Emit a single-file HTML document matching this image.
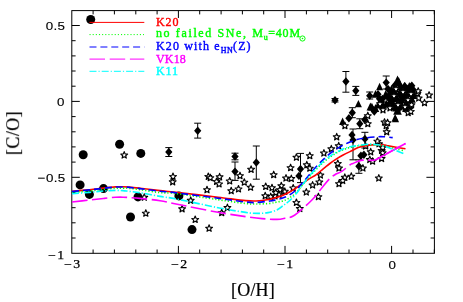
<!DOCTYPE html>
<html><head><meta charset="utf-8"><style>
html,body{margin:0;padding:0;background:#fff}
#c{position:relative;width:463px;height:302px;overflow:hidden;background:#fff;font-family:"Liberation Sans",sans-serif;color:#000}
.t{position:absolute;white-space:nowrap;line-height:1;will-change:transform}
.s{font-family:"Liberation Sans",sans-serif;font-size:11.8px;transform:scaleX(1.13);letter-spacing:0.3px;-webkit-text-stroke:0.15px #000}
.r{font-family:"Liberation Serif",serif;font-size:11.5px;letter-spacing:1.2px;transform:scaleX(1.2);-webkit-text-stroke:0.25px #000}
.lg{font-family:"Liberation Serif",serif;font-size:12px;letter-spacing:1.2px;left:155.5px;-webkit-text-stroke:0.4px currentColor}
.lg sub{font-size:8px;vertical-align:baseline;position:relative;top:3px;letter-spacing:0.3px}
</style></head><body><div id="c">
<svg width="463" height="302" viewBox="0 0 463 302" style="position:absolute;left:0;top:0">
<g stroke="#000" stroke-width="1.0" fill="none">
<rect x="71.8" y="10.6" width="362.6" height="242.7"/>
<path d="M93.1 253.3v-3.8M93.1 10.6v3.8M114.4 253.3v-3.8M114.4 10.6v3.8M135.8 253.3v-3.8M135.8 10.6v3.8M157.1 253.3v-3.8M157.1 10.6v3.8M178.4 253.3v-7.4M178.4 10.6v7.4M199.7 253.3v-3.8M199.7 10.6v3.8M221.1 253.3v-3.8M221.1 10.6v3.8M242.4 253.3v-3.8M242.4 10.6v3.8M263.7 253.3v-3.8M263.7 10.6v3.8M285.0 253.3v-7.4M285.0 10.6v7.4M306.4 253.3v-3.8M306.4 10.6v3.8M327.7 253.3v-3.8M327.7 10.6v3.8M349.0 253.3v-3.8M349.0 10.6v3.8M370.3 253.3v-3.8M370.3 10.6v3.8M391.6 253.3v-7.4M391.6 10.6v7.4M413.0 253.3v-3.8M413.0 10.6v3.8M434.3 253.3v-3.8M434.3 10.6v3.8M71.8 238.0h3.8M434.4 238.0h-3.8M71.8 222.8h3.8M434.4 222.8h-3.8M71.8 207.7h3.8M434.4 207.7h-3.8M71.8 192.5h3.8M434.4 192.5h-3.8M71.8 177.3h8.0M434.4 177.3h-8.0M71.8 162.1h3.8M434.4 162.1h-3.8M71.8 146.9h3.8M434.4 146.9h-3.8M71.8 131.8h3.8M434.4 131.8h-3.8M71.8 116.6h3.8M434.4 116.6h-3.8M71.8 101.4h8.0M434.4 101.4h-8.0M71.8 86.2h3.8M434.4 86.2h-3.8M71.8 71.0h3.8M434.4 71.0h-3.8M71.8 55.9h3.8M434.4 55.9h-3.8M71.8 40.7h3.8M434.4 40.7h-3.8M71.8 25.5h8.0M434.4 25.5h-8.0"/>
</g>
<g fill="#000">
<circle cx="90.7" cy="19.5" r="4.5"/>
<circle cx="83.2" cy="154.7" r="4.5"/>
<circle cx="119.6" cy="144.3" r="4.5"/>
<circle cx="140.8" cy="153.4" r="4.5"/>
<circle cx="80.1" cy="184.9" r="4.5"/>
<circle cx="89.4" cy="194.4" r="4.5"/>
<circle cx="103.5" cy="188.6" r="4.5"/>
<circle cx="138.0" cy="196.9" r="4.5"/>
<circle cx="130.5" cy="217.0" r="4.5"/>
<circle cx="178.9" cy="195.9" r="4.5"/>
<circle cx="192.0" cy="229.6" r="4.5"/>
<polygon points="358.4,99.9 354.9,107.2 361.9,107.2"/>
<polygon points="379.6,82.8 376.1,90.2 383.1,90.2"/>
<polygon points="397.5,75.6 393.0,85.0 402.0,85.0"/>
<polygon points="404.8,81.9 400.8,90.3 408.8,90.3"/>
<polygon points="410.6,83.0 406.6,91.4 414.6,91.4"/>
<polygon points="394.3,86.5 390.3,94.9 398.3,94.9"/>
<polygon points="395.5,114.9 392.0,122.2 399.0,122.2"/>
<polygon points="398.7,77.0 394.4,85.9 402.9,85.9"/>
<polygon points="400.1,81.1 395.9,90.0 404.4,90.0"/>
<polygon points="409.3,82.0 405.1,90.9 413.6,90.9"/>
<polygon points="391.4,85.0 387.1,93.9 395.6,93.9"/>
<polygon points="400.5,86.0 396.2,94.9 404.8,94.9"/>
<polygon points="407.6,84.6 403.4,93.5 411.9,93.5"/>
<polygon points="385.7,90.0 381.4,98.9 389.9,98.9"/>
<polygon points="394.6,89.2 390.4,98.1 398.9,98.1"/>
<polygon points="403.6,90.5 399.4,99.4 407.9,99.4"/>
<polygon points="413.5,90.0 409.2,98.9 417.8,98.9"/>
<polygon points="392.6,93.0 388.4,101.9 396.9,101.9"/>
<polygon points="401.3,94.1 397.1,103.0 405.6,103.0"/>
<polygon points="411.5,93.9 407.2,102.8 415.8,102.8"/>
<polygon points="392.5,97.5 388.2,106.4 396.8,106.4"/>
<polygon points="401.2,99.0 396.9,107.9 405.4,107.9"/>
<polygon points="410.4,97.3 406.1,106.2 414.6,106.2"/>
<polygon points="396.8,102.7 392.6,111.6 401.1,111.6"/>
<polygon points="406.3,103.0 402.1,111.9 410.6,111.9"/>
<polygon points="397.5,105.8 393.2,114.7 401.8,114.7"/>
<polygon points="375.5,104.0 371.8,111.9 379.2,111.9"/>
<polygon points="371.9,102.7 368.1,110.6 375.6,110.6"/>
<polygon points="386.2,99.5 382.4,107.4 389.9,107.4"/>
<polygon points="378.3,100.5 374.6,108.4 382.1,108.4"/>
<polygon points="382.6,99.8 378.9,107.7 386.4,107.7"/>
<polygon points="375.5,89.9 371.8,97.8 379.2,97.8"/>
<polygon points="370.4,102.5 366.6,110.4 374.1,110.4"/>
<polygon points="342.6,117.6 339.1,125.0 346.1,125.0"/>
<polygon points="395.1,114.0 391.6,121.4 398.6,121.4"/>
<polygon points="168.8,147.8 172.4,152.0 168.8,156.2 165.2,152.0"/>
<polygon points="197.7,126.5 201.3,130.7 197.7,134.9 194.1,130.7"/>
<polygon points="235.0,152.3 238.6,156.5 235.0,160.7 231.4,156.5"/>
<polygon points="235.0,167.4 238.6,171.6 235.0,175.8 231.4,171.6"/>
<polygon points="256.3,158.3 259.9,162.5 256.3,166.7 252.7,162.5"/>
<polygon points="300.5,164.8 304.1,169.0 300.5,173.2 296.9,169.0"/>
<polygon points="298.9,171.7 302.5,175.9 298.9,180.1 295.3,175.9"/>
<polygon points="345.9,77.3 349.5,81.5 345.9,85.7 342.3,81.5"/>
<polygon points="355.8,86.6 359.4,90.8 355.8,95.0 352.2,90.8"/>
<polygon points="335.0,96.1 338.6,100.3 335.0,104.5 331.4,100.3"/>
<polygon points="352.3,108.5 355.9,112.7 352.3,116.9 348.7,112.7"/>
<polygon points="348.9,114.0 352.5,118.2 348.9,122.4 345.3,118.2"/>
<polygon points="352.0,130.7 355.6,134.9 352.0,139.1 348.4,134.9"/>
<polygon points="353.0,135.7 356.6,139.9 353.0,144.1 349.4,139.9"/>
<polygon points="364.9,134.7 368.5,138.9 364.9,143.1 361.3,138.9"/>
<polygon points="360.9,151.6 364.5,155.8 360.9,160.0 357.3,155.8"/>
<polygon points="363.9,150.6 367.5,154.8 363.9,159.0 360.3,154.8"/>
<polygon points="358.9,162.0 362.5,166.2 358.9,170.4 355.3,166.2"/>
<polygon points="386.2,78.4 389.8,82.6 386.2,86.8 382.6,82.6"/>
<polygon points="378.0,90.1 381.6,94.3 378.0,98.5 374.4,94.3"/>
<polygon points="388.0,84.8 391.6,89.0 388.0,93.2 384.4,89.0"/>
<polygon points="369.7,91.6 373.3,95.8 369.7,100.0 366.1,95.8"/>
<polygon points="359.8,119.6 363.4,123.8 359.8,128.0 356.2,123.8"/>
<polygon points="364.8,115.6 368.4,119.8 364.8,124.0 361.2,119.8"/>
<polygon points="394.8,81.3 398.4,85.5 394.8,89.7 391.2,85.5"/>
<polygon points="404.7,82.0 408.3,86.2 404.7,90.4 401.1,86.2"/>
<polygon points="411.8,81.6 415.4,85.8 411.8,90.0 408.2,85.8"/>
<polygon points="394.4,86.1 398.0,90.3 394.4,94.5 390.8,90.3"/>
<polygon points="403.2,85.9 406.8,90.1 403.2,94.3 399.6,90.1"/>
<polygon points="413.4,85.8 417.0,90.0 413.4,94.2 409.8,90.0"/>
<polygon points="390.0,90.4 393.6,94.6 390.0,98.8 386.4,94.6"/>
<polygon points="400.5,91.2 404.1,95.4 400.5,99.6 396.9,95.4"/>
<polygon points="407.8,90.4 411.4,94.6 407.8,98.8 404.2,94.6"/>
<polygon points="389.1,94.5 392.7,98.7 389.1,102.9 385.5,98.7"/>
<polygon points="396.6,95.0 400.2,99.2 396.6,103.4 393.0,99.2"/>
<polygon points="405.9,94.7 409.5,98.9 405.9,103.1 402.3,98.9"/>
<polygon points="389.4,99.6 393.0,103.8 389.4,108.0 385.8,103.8"/>
<polygon points="397.9,99.9 401.5,104.1 397.9,108.3 394.3,104.1"/>
<polygon points="407.0,99.2 410.6,103.4 407.0,107.6 403.4,103.4"/>
<polygon points="393.2,102.8 396.8,107.0 393.2,111.2 389.6,107.0"/>
<polygon points="400.9,102.7 404.5,106.9 400.9,111.1 397.3,106.9"/>
<polygon points="410.8,102.8 414.4,107.0 410.8,111.2 407.2,107.0"/>
<polygon points="382.6,103.5 386.2,107.7 382.6,111.9 379.0,107.7"/>
<polygon points="373.7,105.9 377.3,110.1 373.7,114.3 370.1,110.1"/>
<polygon points="379.5,94.5 383.1,98.7 379.5,102.9 375.9,98.7"/>
<polygon points="382.4,94.7 386.0,98.9 382.4,103.1 378.8,98.9"/>
<polygon points="374.3,107.3 377.9,111.5 374.3,115.7 370.7,111.5"/>
<polygon points="381.6,97.7 385.2,101.9 381.6,106.1 378.0,101.9"/>
</g>
<g stroke="#000" stroke-width="1" fill="none">
<path d="M168.8 147.6V156.5M165.3 147.6h7M165.3 156.5h7"/>
<path d="M197.7 123.2V138.1M194.2 123.2h7M194.2 138.1h7"/>
<path d="M235.0 153.2V159.8M231.5 153.2h7M231.5 159.8h7"/>
<path d="M235.0 162.0V180.4M231.5 162.0h7M231.5 180.4h7"/>
<path d="M256.3 146.0V179.2M252.8 146.0h7M252.8 179.2h7"/>
<path d="M300.5 153.4V182.6M297.0 153.4h7M297.0 182.6h7"/>
<path d="M345.9 71.5V92.2M342.4 71.5h7M342.4 92.2h7"/>
<path d="M355.8 86.4V95.4M352.3 86.4h7M352.3 95.4h7"/>
<path d="M335.0 98.5V102.0M331.5 98.5h7M331.5 102.0h7"/>
<path d="M352.3 107.7V117.7M348.8 107.7h7M348.8 117.7h7"/>
<path d="M353.0 129.0V159.8M349.5 129.0h7M349.5 159.8h7"/>
<path d="M364.9 132.3V148.0M361.4 132.3h7M361.4 148.0h7"/>
<path d="M358.9 159.8V173.3M355.4 159.8h7M355.4 173.3h7"/>
<path d="M386.2 76.0V89.0M382.7 76.0h7M382.7 89.0h7"/>
<path d="M369.7 92.0V99.0M366.2 92.0h7M366.2 99.0h7"/>
<path d="M359.8 118.8V128.7M356.3 118.8h7M356.3 128.7h7"/>
</g>
<g stroke="#000" stroke-width="1.15" fill="#fff" stroke-linejoin="round">
<polygon points="124.2,151.6 125.1,153.9 127.6,154.1 125.7,155.7 126.3,158.1 124.2,156.8 122.1,158.1 122.7,155.7 120.8,154.1 123.3,153.9"/>
<polygon points="144.3,193.8 145.2,196.1 147.7,196.3 145.8,197.9 146.4,200.3 144.3,199.0 142.2,200.3 142.8,197.9 140.9,196.3 143.4,196.1"/>
<polygon points="145.8,209.8 146.7,212.0 149.2,212.2 147.3,213.8 147.9,216.2 145.8,214.9 143.7,216.2 144.3,213.8 142.4,212.2 144.9,212.0"/>
<polygon points="173.0,173.0 173.9,175.3 176.4,175.5 174.5,177.1 175.1,179.5 173.0,178.2 170.9,179.5 171.5,177.1 169.6,175.5 172.1,175.3"/>
<polygon points="172.7,178.4 173.6,180.7 176.1,180.9 174.2,182.5 174.8,184.9 172.7,183.6 170.6,184.9 171.2,182.5 169.3,180.9 171.8,180.7"/>
<polygon points="208.3,173.0 209.2,175.3 211.7,175.5 209.8,177.1 210.4,179.5 208.3,178.2 206.2,179.5 206.8,177.1 204.9,175.5 207.4,175.3"/>
<polygon points="210.3,174.2 211.2,176.5 213.7,176.7 211.8,178.3 212.4,180.7 210.3,179.4 208.2,180.7 208.8,178.3 206.9,176.7 209.4,176.5"/>
<polygon points="219.6,173.4 220.5,175.7 223.0,175.9 221.1,177.5 221.7,179.9 219.6,178.6 217.5,179.9 218.1,177.5 216.2,175.9 218.7,175.7"/>
<polygon points="216.6,178.0 217.5,180.3 220.0,180.5 218.1,182.1 218.7,184.5 216.6,183.2 214.5,184.5 215.1,182.1 213.2,180.5 215.7,180.3"/>
<polygon points="219.1,180.5 220.0,182.8 222.5,183.0 220.6,184.6 221.2,187.0 219.1,185.7 217.0,187.0 217.6,184.6 215.7,183.0 218.2,182.8"/>
<polygon points="207.0,186.3 207.9,188.6 210.4,188.8 208.5,190.4 209.1,192.8 207.0,191.5 204.9,192.8 205.5,190.4 203.6,188.8 206.1,188.6"/>
<polygon points="229.7,177.5 230.6,179.8 233.1,180.0 231.2,181.6 231.8,184.0 229.7,182.7 227.6,184.0 228.2,181.6 226.3,180.0 228.8,179.8"/>
<polygon points="231.2,187.3 232.1,189.6 234.6,189.8 232.7,191.4 233.3,193.8 231.2,192.5 229.1,193.8 229.7,191.4 227.8,189.8 230.3,189.6"/>
<polygon points="238.5,185.5 239.4,187.8 241.9,188.0 240.0,189.6 240.6,192.0 238.5,190.7 236.4,192.0 237.0,189.6 235.1,188.0 237.6,187.8"/>
<polygon points="240.0,172.2 240.9,174.5 243.4,174.7 241.5,176.3 242.1,178.7 240.0,177.4 237.9,178.7 238.5,176.3 236.6,174.7 239.1,174.5"/>
<polygon points="244.3,178.8 245.2,181.0 247.7,181.2 245.8,182.8 246.4,185.2 244.3,183.9 242.2,185.2 242.8,182.8 240.9,181.2 243.4,181.0"/>
<polygon points="250.6,183.8 251.5,186.1 254.0,186.3 252.1,187.9 252.7,190.3 250.6,189.0 248.5,190.3 249.1,187.9 247.2,186.3 249.7,186.1"/>
<polygon points="251.1,165.9 252.0,168.2 254.5,168.4 252.6,170.0 253.2,172.4 251.1,171.1 249.0,172.4 249.6,170.0 247.7,168.4 250.2,168.2"/>
<polygon points="273.7,171.2 274.6,173.5 277.1,173.7 275.2,175.3 275.8,177.7 273.7,176.4 271.6,177.7 272.2,175.3 270.3,173.7 272.8,173.5"/>
<polygon points="265.7,183.0 266.6,185.3 269.1,185.5 267.2,187.1 267.8,189.5 265.7,188.2 263.6,189.5 264.2,187.1 262.3,185.5 264.8,185.3"/>
<polygon points="272.0,184.3 272.9,186.6 275.4,186.8 273.5,188.4 274.1,190.8 272.0,189.5 269.9,190.8 270.5,188.4 268.6,186.8 271.1,186.6"/>
<polygon points="265.2,192.3 266.1,194.6 268.6,194.8 266.7,196.4 267.3,198.8 265.2,197.5 263.1,198.8 263.7,196.4 261.8,194.8 264.3,194.6"/>
<polygon points="270.7,193.1 271.6,195.4 274.1,195.6 272.2,197.2 272.8,199.6 270.7,198.3 268.6,199.6 269.2,197.2 267.3,195.6 269.8,195.4"/>
<polygon points="275.0,192.4 275.9,194.7 278.4,194.9 276.5,196.5 277.1,198.9 275.0,197.6 272.9,198.9 273.5,196.5 271.6,194.9 274.1,194.7"/>
<polygon points="190.7,196.9 191.6,199.2 194.1,199.4 192.2,201.0 192.8,203.4 190.7,202.1 188.6,203.4 189.2,201.0 187.3,199.4 189.8,199.2"/>
<polygon points="182.1,205.4 183.0,207.7 185.5,207.9 183.6,209.5 184.2,211.9 182.1,210.6 180.0,211.9 180.6,209.5 178.7,207.9 181.2,207.7"/>
<polygon points="195.2,216.0 196.1,218.3 198.6,218.5 196.7,220.1 197.3,222.5 195.2,221.2 193.1,222.5 193.7,220.1 191.8,218.5 194.3,218.3"/>
<polygon points="209.1,224.8 210.0,227.1 212.5,227.3 210.6,228.9 211.2,231.3 209.1,230.0 207.0,231.3 207.6,228.9 205.7,227.3 208.2,227.1"/>
<polygon points="227.4,204.1 228.3,206.4 230.8,206.6 228.9,208.2 229.5,210.6 227.4,209.3 225.3,210.6 225.9,208.2 224.0,206.6 226.5,206.4"/>
<polygon points="221.7,209.2 222.6,211.5 225.1,211.7 223.2,213.3 223.8,215.7 221.7,214.4 219.6,215.7 220.2,213.3 218.3,211.7 220.8,211.5"/>
<polygon points="281.3,182.3 282.2,184.6 284.7,184.8 282.8,186.4 283.4,188.8 281.3,187.5 279.2,188.8 279.8,186.4 277.9,184.8 280.4,184.6"/>
<polygon points="280.0,186.2 280.9,188.5 283.4,188.7 281.5,190.3 282.1,192.7 280.0,191.4 277.9,192.7 278.5,190.3 276.6,188.7 279.1,188.5"/>
<polygon points="286.0,174.6 286.9,176.9 289.4,177.1 287.5,178.7 288.1,181.1 286.0,179.8 283.9,181.1 284.5,178.7 282.6,177.1 285.1,176.9"/>
<polygon points="291.3,175.1 292.2,177.4 294.7,177.6 292.8,179.2 293.4,181.6 291.3,180.3 289.2,181.6 289.8,179.2 287.9,177.6 290.4,177.4"/>
<polygon points="290.6,164.2 291.5,166.5 294.0,166.7 292.1,168.3 292.7,170.7 290.6,169.4 288.5,170.7 289.1,168.3 287.2,166.7 289.7,166.5"/>
<polygon points="296.4,153.8 297.3,156.1 299.8,156.3 297.9,157.9 298.5,160.3 296.4,159.0 294.3,160.3 294.9,157.9 293.0,156.3 295.5,156.1"/>
<polygon points="309.8,152.2 310.7,154.5 313.2,154.7 311.3,156.3 311.9,158.7 309.8,157.4 307.7,158.7 308.3,156.3 306.4,154.7 308.9,154.5"/>
<polygon points="306.8,161.4 307.7,163.7 310.2,163.9 308.3,165.5 308.9,167.9 306.8,166.6 304.7,167.9 305.3,165.5 303.4,163.9 305.9,163.7"/>
<polygon points="309.8,164.8 310.7,167.0 313.2,167.2 311.3,168.8 311.9,171.2 309.8,169.9 307.7,171.2 308.3,168.8 306.4,167.2 308.9,167.0"/>
<polygon points="279.0,190.9 279.9,193.2 282.4,193.4 280.5,195.0 281.1,197.4 279.0,196.1 276.9,197.4 277.5,195.0 275.6,193.4 278.1,193.2"/>
<polygon points="284.8,187.9 285.7,190.2 288.2,190.4 286.3,192.0 286.9,194.4 284.8,193.1 282.7,194.4 283.3,192.0 281.4,190.4 283.9,190.2"/>
<polygon points="306.3,188.6 307.2,190.9 309.7,191.1 307.8,192.7 308.4,195.1 306.3,193.8 304.2,195.1 304.8,192.7 302.9,191.1 305.4,190.9"/>
<polygon points="312.6,181.6 313.5,183.9 316.0,184.1 314.1,185.7 314.7,188.1 312.6,186.8 310.5,188.1 311.1,185.7 309.2,184.1 311.7,183.9"/>
<polygon points="318.4,193.2 319.3,195.5 321.8,195.7 319.9,197.3 320.5,199.7 318.4,198.4 316.3,199.7 316.9,197.3 315.0,195.7 317.5,195.5"/>
<polygon points="296.4,199.0 297.3,201.3 299.8,201.5 297.9,203.1 298.5,205.5 296.4,204.2 294.3,205.5 294.9,203.1 293.0,201.5 295.5,201.3"/>
<polygon points="299.8,205.1 300.7,207.4 303.2,207.6 301.3,209.2 301.9,211.6 299.8,210.3 297.7,211.6 298.3,209.2 296.4,207.6 298.9,207.4"/>
<polygon points="336.7,133.4 337.6,135.7 340.1,135.9 338.2,137.5 338.8,139.9 336.7,138.6 334.6,139.9 335.2,137.5 333.3,135.9 335.8,135.7"/>
<polygon points="331.3,145.4 332.2,147.7 334.7,147.9 332.8,149.5 333.4,151.9 331.3,150.6 329.2,151.9 329.8,149.5 327.9,147.9 330.4,147.7"/>
<polygon points="323.9,149.6 324.8,151.9 327.3,152.1 325.4,153.7 326.0,156.1 323.9,154.8 321.8,156.1 322.4,153.7 320.5,152.1 323.0,151.9"/>
<polygon points="320.4,171.6 321.3,173.9 323.8,174.1 321.9,175.7 322.5,178.1 320.4,176.8 318.3,178.1 318.9,175.7 317.0,174.1 319.5,173.9"/>
<polygon points="319.3,178.6 320.2,180.9 322.7,181.1 320.8,182.7 321.4,185.1 319.3,183.8 317.2,185.1 317.8,182.7 315.9,181.1 318.4,180.9"/>
<polygon points="337.8,160.0 338.7,162.3 341.2,162.5 339.3,164.1 339.9,166.5 337.8,165.2 335.7,166.5 336.3,164.1 334.4,162.5 336.9,162.3"/>
<polygon points="339.0,164.6 339.9,166.9 342.4,167.1 340.5,168.7 341.1,171.1 339.0,169.8 336.9,171.1 337.5,168.7 335.6,167.1 338.1,166.9"/>
<polygon points="344.8,173.9 345.7,176.2 348.2,176.4 346.3,178.0 346.9,180.4 344.8,179.1 342.7,180.4 343.3,178.0 341.4,176.4 343.9,176.2"/>
<polygon points="351.3,172.8 352.2,175.1 354.7,175.3 352.8,176.9 353.4,179.3 351.3,178.0 349.2,179.3 349.8,176.9 347.9,175.3 350.4,175.1"/>
<polygon points="339.0,180.2 339.9,182.5 342.4,182.7 340.5,184.3 341.1,186.7 339.0,185.4 336.9,186.7 337.5,184.3 335.6,182.7 338.1,182.5"/>
<polygon points="365.6,142.6 366.5,144.9 369.0,145.1 367.1,146.7 367.7,149.1 365.6,147.8 363.5,149.1 364.1,146.7 362.2,145.1 364.7,144.9"/>
<polygon points="370.7,148.4 371.6,150.7 374.1,150.9 372.2,152.5 372.8,154.9 370.7,153.6 368.6,154.9 369.2,152.5 367.3,150.9 369.8,150.7"/>
<polygon points="369.8,156.1 370.7,158.4 373.2,158.6 371.3,160.2 371.9,162.6 369.8,161.3 367.7,162.6 368.3,160.2 366.4,158.6 368.9,158.4"/>
<polygon points="362.9,164.6 363.8,166.9 366.3,167.1 364.4,168.7 365.0,171.1 362.9,169.8 360.8,171.1 361.4,168.7 359.5,167.1 362.0,166.9"/>
<polygon points="378.8,174.6 379.7,176.9 382.2,177.1 380.3,178.7 380.9,181.1 378.8,179.8 376.7,181.1 377.3,178.7 375.4,177.1 377.9,176.9"/>
<polygon points="379.0,140.3 379.9,142.6 382.4,142.8 380.5,144.4 381.1,146.8 379.0,145.5 376.9,146.8 377.5,144.4 375.6,142.8 378.1,142.6"/>
<polygon points="372.6,157.8 373.5,160.0 376.0,160.2 374.1,161.8 374.7,164.2 372.6,162.9 370.5,164.2 371.1,161.8 369.2,160.2 371.7,160.0"/>
<polygon points="386.2,122.2 387.1,124.5 389.6,124.7 387.7,126.3 388.3,128.7 386.2,127.4 384.1,128.7 384.7,126.3 382.8,124.7 385.3,124.5"/>
<polygon points="386.7,128.4 387.6,130.7 390.1,130.9 388.2,132.5 388.8,134.9 386.7,133.6 384.6,134.9 385.2,132.5 383.3,130.9 385.8,130.7"/>
<polygon points="377.4,137.8 378.3,140.0 380.8,140.2 378.9,141.8 379.5,144.2 377.4,142.9 375.3,144.2 375.9,141.8 374.0,140.2 376.5,140.0"/>
<polygon points="381.6,147.0 382.5,149.3 385.0,149.5 383.1,151.1 383.7,153.5 381.6,152.2 379.5,153.5 380.1,151.1 378.2,149.5 380.7,149.3"/>
<polygon points="382.7,149.3 383.6,151.6 386.1,151.8 384.2,153.4 384.8,155.8 382.7,154.5 380.6,155.8 381.2,153.4 379.3,151.8 381.8,151.6"/>
<polygon points="381.6,155.1 382.5,157.4 385.0,157.6 383.1,159.2 383.7,161.6 381.6,160.3 379.5,161.6 380.1,159.2 378.2,157.6 380.7,157.4"/>
<polygon points="408.2,109.2 409.1,111.5 411.6,111.7 409.7,113.3 410.3,115.7 408.2,114.4 406.1,115.7 406.7,113.3 404.8,111.7 407.3,111.5"/>
<polygon points="275.8,189.1 276.7,191.4 279.2,191.6 277.3,193.2 277.9,195.6 275.8,194.3 273.7,195.6 274.3,193.2 272.4,191.6 274.9,191.4"/>
<polygon points="293.2,184.5 294.1,186.8 296.6,187.0 294.7,188.6 295.3,191.0 293.2,189.7 291.1,191.0 291.7,188.6 289.8,187.0 292.3,186.8"/>
<polygon points="338.7,142.4 339.6,144.7 342.1,144.9 340.2,146.5 340.8,148.9 338.7,147.6 336.6,148.9 337.2,146.5 335.3,144.9 337.8,144.7"/>
<polygon points="342.7,177.1 343.6,179.4 346.1,179.6 344.2,181.2 344.8,183.6 342.7,182.3 340.6,183.6 341.2,181.2 339.3,179.6 341.8,179.4"/>
<polygon points="429.1,91.7 430.0,93.9 432.5,94.1 430.6,95.7 431.2,98.1 429.1,96.8 427.0,98.1 427.6,95.7 425.7,94.1 428.2,93.9"/>
<polygon points="424.5,99.4 425.4,101.6 427.9,101.8 426.0,103.4 426.6,105.8 424.5,104.5 422.4,105.8 423.0,103.4 421.1,101.8 423.6,101.6"/>
<polygon points="417.5,90.0 418.4,92.3 420.9,92.5 419.0,94.1 419.6,96.5 417.5,95.2 415.4,96.5 416.0,94.1 414.1,92.5 416.6,92.3"/>
<polygon points="418.7,94.7 419.6,96.9 422.1,97.1 420.2,98.7 420.8,101.1 418.7,99.8 416.6,101.1 417.2,98.7 415.3,97.1 417.8,96.9"/>
<polygon points="344.9,122.2 345.8,124.5 348.3,124.7 346.4,126.3 347.0,128.7 344.9,127.4 342.8,128.7 343.4,126.3 341.5,124.7 344.0,124.5"/>
<polygon points="367.8,112.2 368.7,114.5 371.2,114.7 369.3,116.3 369.9,118.7 367.8,117.4 365.7,118.7 366.3,116.3 364.4,114.7 366.9,114.5"/>
<polygon points="367.8,120.2 368.7,122.5 371.2,122.7 369.3,124.3 369.9,126.7 367.8,125.4 365.7,126.7 366.3,124.3 364.4,122.7 366.9,122.5"/>
<polygon points="382.7,144.0 383.6,146.3 386.1,146.5 384.2,148.1 384.8,150.5 382.7,149.2 380.6,150.5 381.2,148.1 379.3,146.5 381.8,146.3"/>
<polygon points="384.5,118.7 385.4,120.9 387.9,121.1 386.0,122.7 386.6,125.1 384.5,123.8 382.4,125.1 383.0,122.7 381.1,121.1 383.6,120.9"/>
<polygon points="410.8,108.0 411.7,110.3 414.2,110.5 412.3,112.1 412.9,114.5 410.8,113.2 408.7,114.5 409.3,112.1 407.4,110.5 409.9,110.3"/>
<polygon points="411.5,101.4 412.4,103.6 414.9,103.8 413.0,105.4 413.6,107.8 411.5,106.5 409.4,107.8 410.0,105.4 408.1,103.8 410.6,103.6"/>
<polygon points="387.6,119.2 388.5,121.5 391.0,121.7 389.1,123.3 389.7,125.7 387.6,124.4 385.5,125.7 386.1,123.3 384.2,121.7 386.7,121.5"/>
<polygon points="418.2,87.7 419.1,89.9 421.6,90.1 419.7,91.7 420.3,94.1 418.2,92.8 416.1,94.1 416.7,91.7 414.8,90.1 417.3,89.9"/>
<polygon points="394.0,92.5 394.9,94.7 397.4,94.9 395.5,96.5 396.1,98.9 394.0,97.6 391.9,98.9 392.5,96.5 390.6,94.9 393.1,94.7"/>
<polygon points="403.0,88.5 403.9,90.7 406.4,90.9 404.5,92.5 405.1,94.9 403.0,93.6 400.9,94.9 401.5,92.5 399.6,90.9 402.1,90.7"/>
<polygon points="408.0,96.5 408.9,98.7 411.4,98.9 409.5,100.5 410.1,102.9 408.0,101.6 405.9,102.9 406.5,100.5 404.6,98.9 407.1,98.7"/>
<polygon points="398.0,101.5 398.9,103.7 401.4,103.9 399.5,105.5 400.1,107.9 398.0,106.6 395.9,107.9 396.5,105.5 394.6,103.9 397.1,103.7"/>
<polygon points="390.0,104.5 390.9,106.7 393.4,106.9 391.5,108.5 392.1,110.9 390.0,109.6 387.9,110.9 388.5,108.5 386.6,106.9 389.1,106.7"/>
<polygon points="380.0,100.5 380.9,102.7 383.4,102.9 381.5,104.5 382.1,106.9 380.0,105.6 377.9,106.9 378.5,104.5 376.6,102.9 379.1,102.7"/>
<polygon points="383.0,106.5 383.9,108.7 386.4,108.9 384.5,110.5 385.1,112.9 383.0,111.6 380.9,112.9 381.5,110.5 379.6,108.9 382.1,108.7"/>
<polygon points="411.0,90.5 411.9,92.7 414.4,92.9 412.5,94.5 413.1,96.9 411.0,95.6 408.9,96.9 409.5,94.5 407.6,92.9 410.1,92.7"/>
<polygon points="405.0,103.5 405.9,105.7 408.4,105.9 406.5,107.5 407.1,109.9 405.0,108.6 402.9,109.9 403.5,107.5 401.6,105.9 404.1,105.7"/>
<polygon points="396.0,85.5 396.9,87.7 399.4,87.9 397.5,89.5 398.1,91.9 396.0,90.6 393.9,91.9 394.5,89.5 392.6,87.9 395.1,87.7"/>
</g>
<g fill="none" stroke-width="1.6" stroke-linecap="butt">
<path d="M72.0 191.4 C74.9 191.1 84.2 190.2 89.4 189.7 C94.6 189.1 99.1 188.6 103.4 188.1 C107.7 187.6 112.1 187.1 115.4 186.9 C118.7 186.7 120.6 186.8 123.0 186.8 C125.4 186.8 126.8 186.9 129.6 187.1 C132.4 187.3 134.9 187.6 140.0 188.2 C145.1 188.8 154.0 189.9 160.0 190.6 C166.0 191.3 166.3 191.1 176.0 192.2 C185.7 193.3 206.4 195.8 218.0 197.2 C229.6 198.6 239.3 200.0 245.6 200.6 C251.9 201.2 251.9 201.2 256.0 201.0 C260.1 200.8 266.7 199.8 270.0 199.2 C273.3 198.6 273.9 198.2 276.0 197.6 C278.1 197.0 280.4 196.3 282.6 195.4 C284.8 194.5 287.0 193.5 289.2 192.3 C291.4 191.1 293.7 189.7 295.9 188.2 C298.1 186.7 300.3 185.1 302.5 183.5 C304.7 181.9 306.8 180.4 309.1 178.9 C311.4 177.4 314.0 176.3 316.3 174.6 C318.6 172.9 320.9 170.7 323.2 168.8 C325.5 167.0 327.7 165.2 329.9 163.5 C332.1 161.8 334.3 160.2 336.5 158.8 C338.7 157.4 340.9 156.2 343.1 155.0 C345.4 153.8 347.5 152.8 350.0 151.6 C352.5 150.4 355.7 148.5 358.2 147.6 C360.7 146.7 362.7 146.3 364.9 145.9 C367.1 145.5 369.3 145.1 371.5 144.9 C373.7 144.7 375.9 144.8 378.1 144.8 C380.4 144.8 383.3 144.9 385.0 145.1 C386.7 145.3 386.4 145.6 388.2 145.9 C390.0 146.2 393.1 146.7 396.0 147.2 C398.9 147.7 403.9 148.5 405.5 148.8" stroke="#ff0000" />
<path d="M72.0 192.6 C74.9 192.3 84.2 191.4 89.4 190.9 C94.6 190.4 99.1 189.8 103.4 189.3 C107.7 188.9 112.1 188.4 115.4 188.2 C118.7 188.0 120.6 188.1 123.0 188.1 C125.4 188.1 126.8 188.2 129.6 188.4 C132.4 188.7 134.9 188.9 140.0 189.6 C145.1 190.3 154.0 191.9 160.0 192.6 C166.0 193.3 166.3 192.4 176.0 193.6 C185.7 194.8 206.4 198.0 218.0 199.7 C229.6 201.3 239.3 202.8 245.6 203.5 C251.9 204.2 251.9 204.0 256.0 204.0 C260.1 204.0 266.7 203.7 270.0 203.4 C273.3 203.1 273.9 202.6 276.0 202.2 C278.1 201.8 280.4 201.7 282.6 201.0 C284.8 200.3 287.0 199.5 289.2 198.1 C291.4 196.7 293.7 195.0 295.9 192.8 C298.1 190.6 300.3 187.6 302.5 184.9 C304.7 182.2 306.8 179.6 309.1 176.9 C311.5 174.2 314.2 171.4 316.6 169.0 C319.0 166.6 321.0 164.4 323.2 162.4 C325.4 160.4 327.7 158.8 329.9 157.2 C332.1 155.6 334.3 154.2 336.5 152.9 C338.7 151.7 340.9 150.6 343.1 149.7 C345.4 148.8 347.5 148.2 350.0 147.5 C352.5 146.8 355.7 146.2 358.2 145.8 C360.7 145.4 362.7 145.1 364.9 144.9 C367.1 144.7 369.3 144.6 371.5 144.6 C373.7 144.6 375.9 144.8 378.1 145.1 C380.4 145.4 383.3 145.9 385.0 146.2 C386.7 146.5 386.4 146.3 388.2 146.7 C390.0 147.1 393.4 148.1 396.0 148.8 C398.6 149.5 402.5 150.5 403.8 150.8" stroke="#00ff00" stroke-dasharray="1.2 2" />
<path d="M72.0 191.5 C74.9 191.2 84.2 190.4 89.4 189.9 C94.6 189.4 99.1 188.8 103.4 188.3 C107.7 187.8 112.1 187.3 115.4 187.1 C118.7 186.9 120.6 186.9 123.0 187.0 C125.4 187.1 126.8 187.1 129.6 187.4 C132.4 187.7 134.9 188.0 140.0 188.6 C145.1 189.2 154.0 190.5 160.0 191.2 C166.0 191.9 166.3 191.6 176.0 192.8 C185.7 194.0 206.4 196.7 218.0 198.2 C229.6 199.7 239.3 201.3 245.6 202.0 C251.9 202.7 251.9 202.7 256.0 202.5 C260.1 202.3 266.7 201.4 270.0 201.0 C273.3 200.6 273.9 200.3 276.0 199.8 C278.1 199.3 280.4 198.9 282.6 198.1 C284.8 197.3 287.0 196.5 289.2 195.2 C291.4 193.9 293.7 192.2 295.9 190.2 C298.1 188.1 300.3 185.4 302.5 182.9 C304.7 180.4 306.8 177.8 309.1 175.0 C311.5 172.2 314.2 168.9 316.6 166.3 C319.0 163.7 321.0 161.7 323.2 159.6 C325.4 157.5 327.7 155.4 329.9 153.6 C332.1 151.8 334.3 150.3 336.5 148.9 C338.7 147.5 340.9 146.3 343.1 145.2 C345.4 144.0 347.7 142.9 350.0 142.0 C352.3 141.1 354.4 140.3 356.9 139.6 C359.4 138.9 361.6 138.5 364.9 138.0 C368.2 137.5 373.7 137.0 376.8 136.8 C379.9 136.6 380.8 136.6 383.4 136.7 C386.0 136.8 391.1 137.4 392.7 137.6" stroke="#0000ff" stroke-dasharray="7 4" />
<path d="M72.0 202.0 C74.9 201.7 84.2 200.7 89.4 200.1 C94.6 199.5 99.1 199.0 103.4 198.5 C107.7 198.0 112.1 197.5 115.4 197.3 C118.7 197.1 120.6 197.1 123.0 197.2 C125.4 197.2 126.8 197.4 129.6 197.6 C132.4 197.8 134.9 197.9 140.0 198.4 C145.1 198.9 154.0 199.8 160.0 200.7 C166.0 201.6 166.3 202.1 176.0 204.0 C185.7 205.9 206.4 210.2 218.0 212.3 C229.6 214.4 238.3 215.6 245.6 216.6 C252.9 217.6 256.8 218.1 262.0 218.6 C267.2 219.1 273.2 219.5 277.0 219.4 C280.8 219.3 282.3 218.8 285.0 218.2 C287.7 217.6 289.9 217.9 293.2 216.0 C296.5 214.1 301.7 209.4 304.8 206.7 C307.9 204.0 310.0 201.9 311.9 200.0 C313.8 198.1 314.1 197.8 316.0 195.5 C317.9 193.2 320.7 189.3 323.0 186.5 C325.3 183.7 327.5 180.7 329.7 178.6 C331.9 176.5 334.0 175.2 336.0 174.0 C338.0 172.8 339.5 172.9 341.8 171.4 C344.1 169.9 348.1 166.1 350.0 164.8 C351.9 163.5 351.2 164.1 353.0 163.4 C354.8 162.7 358.4 160.9 360.9 160.4 C363.4 159.9 365.6 160.4 368.0 160.3 C370.4 160.2 372.7 160.8 375.0 160.1 C377.3 159.4 379.5 157.7 382.0 156.3 C384.5 154.9 386.1 154.0 390.0 151.9 C393.9 149.8 402.9 144.9 405.5 143.5" stroke="#ff00ff" stroke-dasharray="15.5 4.5" />
<path d="M376 159.6 L405.5 143.5" stroke="#ff00ff"/>
<path d="M72.0 193.6 C74.9 193.4 84.2 192.8 89.4 192.4 C94.6 192.0 99.1 191.3 103.4 191.0 C107.7 190.7 112.1 190.5 115.4 190.4 C118.7 190.3 120.6 190.4 123.0 190.6 C125.4 190.8 126.8 191.1 129.6 191.4 C132.4 191.8 134.9 191.9 140.0 192.7 C145.1 193.5 154.0 195.4 160.0 196.4 C166.0 197.4 166.3 197.0 176.0 198.9 C185.7 200.8 206.4 205.4 218.0 207.7 C229.6 209.9 238.9 211.4 245.6 212.4 C252.3 213.4 254.3 213.4 258.0 213.4 C261.7 213.4 264.8 213.2 268.0 212.6 C271.2 212.0 274.7 211.0 277.3 209.7 C279.9 208.4 281.9 206.4 283.9 205.0 C285.9 203.6 287.2 202.8 289.2 201.0 C291.2 199.2 293.7 196.8 295.9 194.1 C298.1 191.4 300.3 187.9 302.5 184.9 C304.7 181.9 306.8 179.0 309.1 176.2 C311.5 173.4 314.2 170.5 316.6 168.1 C319.0 165.7 321.0 163.5 323.2 161.5 C325.4 159.5 327.7 157.8 329.9 156.2 C332.1 154.6 334.3 153.4 336.5 152.2 C338.7 151.0 340.9 149.8 343.1 148.9 C345.4 148.0 347.5 147.4 350.0 146.8 C352.5 146.2 355.7 145.8 358.2 145.4 C360.7 145.0 362.7 144.7 364.9 144.5 C367.1 144.3 369.3 144.1 371.5 144.2 C373.7 144.2 375.9 144.5 378.1 144.8 C380.4 145.1 383.3 145.8 385.0 146.2 C386.7 146.6 386.6 146.8 388.2 147.5 C389.8 148.2 392.2 149.1 394.9 150.2 C397.6 151.3 402.7 153.3 404.3 153.9" stroke="#00ffff" stroke-dasharray="7 2 1.2 2" />
</g>
<g fill="none" stroke-width="1.0">
<path d="M89.5 22.4H144.3" stroke="#ff0000"/>
<path d="M89.5 34.6H144" stroke="#00ff00" stroke-dasharray="1.1 2.05"/>
<path d="M89.5 47H144.3" stroke="#0000ff" stroke-dasharray="7 3.9"/>
<path d="M89.5 59.1H144.3" stroke="#ff00ff" stroke-dasharray="15.5 4.7"/>
<path d="M89.5 71.3H144.3" stroke="#00ffff" stroke-dasharray="7 2 1.2 2"/>
</g>
</svg>
<div class="t s" style="right:397.6px;top:20.8px;transform-origin:right center">0.5</div>
<div class="t s" style="right:398.3px;top:96.8px;transform-origin:right center">0</div>
<div class="t s" style="right:397.8px;top:172.8px;transform-origin:right center">&minus;0.5</div>
<div class="t r" style="right:397.7px;top:249.6px;transform-origin:right center">&minus;1</div>
<div class="t r" style="left:63.7px;top:259.3px;transform-origin:left center">&minus;3</div>
<div class="t r" style="left:170.7px;top:259.3px;transform-origin:left center">&minus;2</div>
<div class="t r" style="left:277.4px;top:259.3px;transform-origin:left center">&minus;1</div>
<div class="t s" style="left:388.5px;top:259.6px;transform-origin:center center">0</div>
<div class="t" style="font-family:'Liberation Serif',serif;font-size:18px;left:231.3px;top:281.3px;letter-spacing:0.2px;-webkit-text-stroke:0.2px #000">[O/H]</div>
<div class="t" style="font-family:'Liberation Serif',serif;font-size:18px;left:-8.7px;top:123.6px;letter-spacing:0.45px;-webkit-text-stroke:0.2px #000;transform:rotate(-90deg);transform-origin:center">[C/O]</div>
<div class="t lg" style="color:#f00;top:16px;letter-spacing:0.9px">K20</div>
<div class="t lg" style="color:#0f0;top:27.2px"><span style="letter-spacing:1.62px">no failed SNe, </span><span style="letter-spacing:0.85px">M<sub>u</sub>=40M</span><svg width="7" height="7" viewBox="0 0 7 7" style="position:absolute;left:143.2px;top:7.9px;overflow:visible"><circle cx="3.5" cy="3.5" r="2.6" fill="none" stroke="#0f0" stroke-width="1"/><circle cx="3.5" cy="3.5" r="0.8" fill="#0f0"/></svg></div>
<div class="t lg" style="color:#00f;top:39.6px;letter-spacing:1.15px">K20 with e<sub>HN</sub>(Z)</div>
<div class="t lg" style="color:#f0f;top:52.5px;letter-spacing:0.15px">VK18</div>
<div class="t lg" style="color:#0ff;top:65.2px;letter-spacing:0.9px">K11</div>
</div></body></html>
